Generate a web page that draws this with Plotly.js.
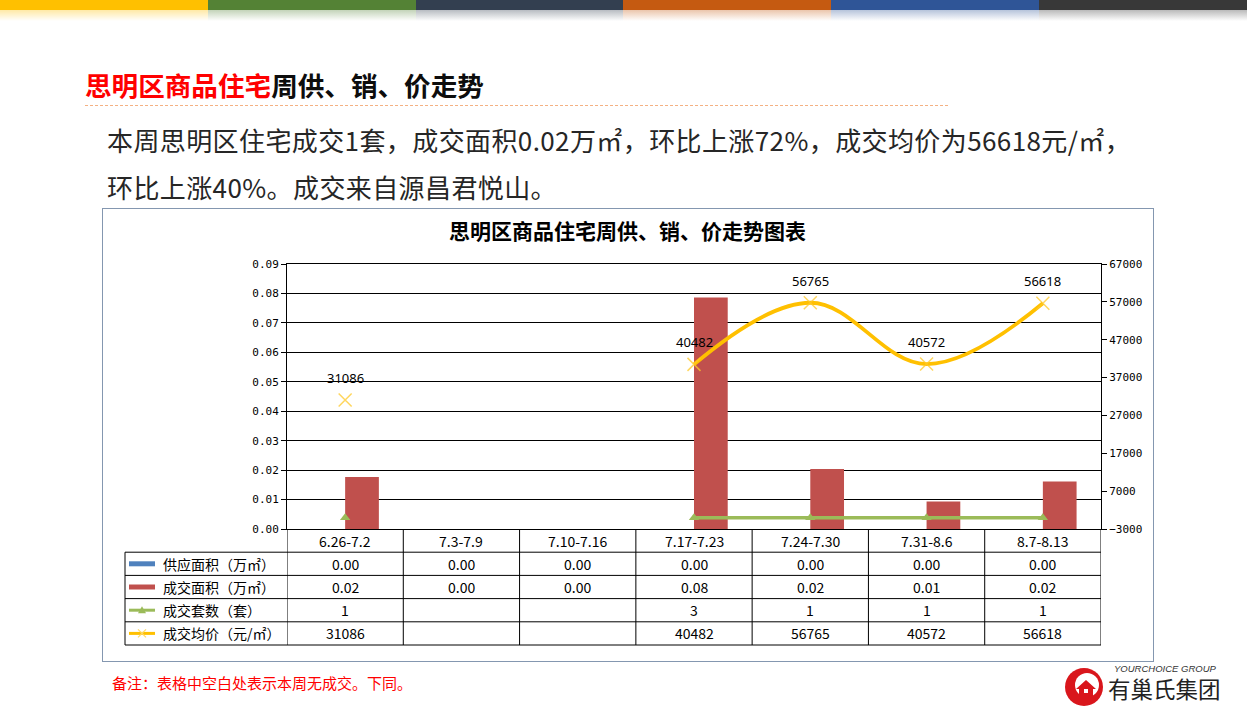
<!DOCTYPE html>
<html><head><meta charset="utf-8">
<script src="https://cdn.plot.ly/plotly-3.0.1.min.js"></script>
<style>
html,body{margin:0;padding:0;background:#fff;width:1247px;height:718px;overflow:hidden;font-family:"Noto Sans CJK SC","Noto Sans",sans-serif;}
.abs{position:absolute;}
.topbar{left:0;top:0;width:1247px;height:22px;display:flex;}
.seg{flex:1;position:relative;height:22px;}
.band{position:absolute;left:0;top:0;width:100%;height:10px;}
.shade{position:absolute;left:0;top:10px;width:100%;height:11px;opacity:0.35;}
#chart{position:absolute;left:0;top:0;width:1247px;height:718px;z-index:2;}
</style></head>
<body>
<div class="abs topbar" id="topbar"></div>
<div class="abs" style="left:85px;top:71px;font-size:26.6px;line-height:28px;font-weight:bold;white-space:nowrap;"><span style="color:#FF0000">思明区商品住宅</span><span style="color:#0D0D0D">周供、销、价走势</span></div>
<div class="abs" style="left:85px;top:105px;width:863px;border-top:1px dashed #F4B183;"></div>
<div class="abs" style="left:107px;top:126px;font-size:26px;line-height:28px;letter-spacing:0.4px;color:#262626;white-space:nowrap;">本周思明区住宅成交1套，成交面积0.02万㎡，环比上涨72%，成交均价为56618元/㎡，</div>
<div class="abs" style="left:107px;top:173px;font-size:26px;line-height:28px;letter-spacing:0.4px;color:#262626;white-space:nowrap;">环比上涨40%。成交来自源昌君悦山。</div>
<div class="abs" style="left:102px;top:208px;width:1050px;height:452px;border:1px solid #8497B0;"></div>
<div class="abs" style="left:112px;top:674px;font-size:15px;line-height:18px;color:#FF0000;white-space:nowrap;">备注：表格中空白处表示本周无成交。下同。</div>
<svg class="abs" style="left:1062px;top:665px;" width="46" height="44" viewBox="0 0 46 44">
  <circle cx="22" cy="22" r="19" fill="#D9161C"/>
  <circle cx="25" cy="20" r="12" fill="#fff"/>
  <path d="M14 24 L24 15 L34 24 L31 24 L31 33 L17 33 L17 24 Z" fill="#D9161C"/>
  <rect x="22" y="24" width="4" height="4" fill="#fff"/>
</svg>
<div class="abs" style="left:1114px;top:663px;font-size:9.5px;line-height:11px;font-style:italic;color:#333;font-family:'Liberation Sans',sans-serif;white-space:nowrap;">YOURCHOICE GROUP</div>
<div class="abs" style="left:1108px;top:677px;font-size:22.5px;line-height:23px;color:#222;white-space:nowrap;">有巢氏集团</div>
<div id="chart"></div>
<script>
// ---- data ----
const categories = ['6.26-7.2','7.3-7.9','7.10-7.16','7.17-7.23','7.24-7.30','7.31-8.6','8.7-8.13'];
const supplyArea = [0, 0, 0, 0, 0, 0, 0];
const salesArea = [0.0177, 0, 0, 0.0786, 0.0204, 0.0093, 0.0161];
const salesUnits = [1, null, null, 3, 1, 1, 1];
const avgPrice = [31086, null, null, 40482, 56765, 40572, 56618];
const rowLabels = ['供应面积（万㎡）', '成交面积（万㎡）', '成交套数（套）', '成交均价（元/㎡）'];
const chartTitle = '思明区商品住宅周供、销、价走势图表';
const barColors = ['#FFC000','#548235','#333F50','#C55A11','#2F5597','#383838'];

// top colour bar
const tb = document.getElementById('topbar');
barColors.forEach(c => {
  const s = document.createElement('div'); s.className = 'seg';
  s.innerHTML = '<div class="band" style="background:'+c+'"></div><div class="shade" style="background:linear-gradient(to bottom,'+c+',rgba(255,255,255,0))"></div>';
  tb.appendChild(s);
});

// ---- layout geometry (pixels) ----
const PL = 287, PR = 1101, PT = 264, PB = 529;
const PW = PR - PL, PH = PB - PT;
const xp = px => (px - PL) / PW;
const yp = py => (PB - py) / PH;
const rowEdges = [529, 552.2, 575.4, 598.6, 621.8, 645];
const rowMid = i => (rowEdges[i] + rowEdges[i + 1]) / 2;
const LEFTCOL = 125;

const fontCJK = 'Noto Sans CJK SC, Noto Sans, sans-serif';
const traces = [
  {type:'bar', name:rowLabels[0], x:categories, y:supplyArea, marker:{color:'#4F81BD'}, yaxis:'y', hoverinfo:'skip'},
  {type:'bar', name:rowLabels[1], x:categories, y:salesArea, marker:{color:'#C0504D'}, yaxis:'y', hoverinfo:'skip'},
  {type:'scatter', mode:'lines+markers', name:rowLabels[2], x:categories, y:salesUnits, yaxis:'y2',
   line:{color:'#9BBB59', width:3.5}, marker:{symbol:'triangle-up', size:9, color:'#9BBB59'}, connectgaps:false, hoverinfo:'skip'},
  {type:'scatter', mode:'lines+markers', name:rowLabels[3], x:categories, y:avgPrice, yaxis:'y2',
   line:{color:'#FFC000', width:3.8, shape:'spline', smoothing:1.1},
   marker:{symbol:'x-thin-open', size:13, color:'rgba(255,200,40,0.75)', line:{color:'rgba(255,200,40,0.75)', width:1.5}},
   connectgaps:false, hoverinfo:'skip', cliponaxis:false}
];

const shapes = [];
const annotations = [];
// price data labels
avgPrice.forEach((v, i) => {
  if (v != null) annotations.push({xref:'x', yref:'y2', x:i, y:v, yshift:22, text:String(v), showarrow:false,
    font:{family:'Noto Sans, sans-serif', size:13, color:'#000'}, xanchor:'center', yanchor:'middle'});
});
const lineStyle = {color:'#000', width:1};
// vertical lines at category boundaries
for (let i = 0; i <= categories.length; i++) {
  shapes.push({type:'line', xref:'x', yref:'paper', x0:i - 0.5, x1:i - 0.5, y0:yp(rowEdges[0]), y1:yp(rowEdges[5]), line:lineStyle});
}
// left label column border
shapes.push({type:'line', xref:'paper', yref:'paper', x0:xp(LEFTCOL), x1:xp(LEFTCOL), y0:yp(rowEdges[1]), y1:yp(rowEdges[5]), line:lineStyle});
// horizontal lines
for (let r = 1; r < rowEdges.length; r++) {
  shapes.push({type:'line', xref:'paper', yref:'paper', x0:xp(LEFTCOL), x1:1, y0:yp(rowEdges[r]), y1:yp(rowEdges[r]), line:lineStyle});
}
// header row: categories
const cellFont = {family:fontCJK, size:14, color:'#000'};
categories.forEach((c, i) => {
  annotations.push({xref:'x', yref:'paper', x:i, y:yp(rowMid(0)), text:c, showarrow:false, font:cellFont, xanchor:'center', yanchor:'middle'});
});
const rows = [
  supplyArea.map(v => v.toFixed(2)),
  salesArea.map(v => v.toFixed(2)),
  salesUnits.map(v => v == null ? '' : String(v)),
  avgPrice.map(v => v == null ? '' : String(v))
];
rows.forEach((vals, r) => {
  vals.forEach((t, i) => {
    if (t !== '') annotations.push({xref:'x', yref:'paper', x:i, y:yp(rowMid(r + 1)), text:t, showarrow:false, font:cellFont, xanchor:'center', yanchor:'middle'});
  });
  annotations.push({xref:'paper', yref:'paper', x:xp(161), y:yp(rowMid(r + 1)), text:rowLabels[r], showarrow:false, font:{family:fontCJK, size:14, color:'#000'}, xanchor:'left', yanchor:'middle'});
});
// legend keys
const kx0 = xp(129), kx1 = xp(155);
const c1 = rowMid(1), c2 = rowMid(2), c3 = rowMid(3), c4 = rowMid(4);
shapes.push({type:'rect', xref:'paper', yref:'paper', x0:kx0, x1:kx1, y0:yp(c1 + 2.5), y1:yp(c1 - 2.5), fillcolor:'#4F81BD', line:{width:0}});
shapes.push({type:'rect', xref:'paper', yref:'paper', x0:kx0, x1:kx1, y0:yp(c2 + 2.5), y1:yp(c2 - 2.5), fillcolor:'#C0504D', line:{width:0}});
shapes.push({type:'line', xref:'paper', yref:'paper', x0:kx0, x1:kx1, y0:yp(c3), y1:yp(c3), line:{color:'#9BBB59', width:3}});
shapes.push({type:'path', xref:'paper', yref:'paper', fillcolor:'#9BBB59', line:{width:0},
  path:'M '+xp(138)+' '+yp(c3 + 3)+' L '+xp(146)+' '+yp(c3 + 3)+' L '+xp(142)+' '+yp(c3 - 4)+' Z'});
shapes.push({type:'line', xref:'paper', yref:'paper', x0:kx0, x1:kx1, y0:yp(c4), y1:yp(c4), line:{color:'#FFC000', width:3}});
shapes.push({type:'line', xref:'paper', yref:'paper', x0:xp(138), x1:xp(146), y0:yp(c4 - 4), y1:yp(c4 + 4), line:{color:'#FFD966', width:1.2}});
shapes.push({type:'line', xref:'paper', yref:'paper', x0:xp(138), x1:xp(146), y0:yp(c4 + 4), y1:yp(c4 - 4), line:{color:'#FFD966', width:1.2}});

const tickFont = {family:'DejaVu Sans Mono, monospace', size:11, color:'#000'};
const layout = {
  width:1247, height:718,
  margin:{l:PL, r:1247 - PR, t:PT, b:718 - PB, pad:0},
  paper_bgcolor:'rgba(0,0,0,0)', plot_bgcolor:'rgba(0,0,0,0)',
  showlegend:false,
  barmode:'group', bargap:0.42, bargroupgap:0,
  title:{text:'<b>'+chartTitle+'</b>', xref:'container', yref:'container', x:627.5/1247, y:1 - 232/718,
         xanchor:'center', yanchor:'middle', font:{family:fontCJK, size:21, color:'#000'}},
  xaxis:{type:'category', range:[-0.5, categories.length - 0.5], showticklabels:false, ticks:'',
         showgrid:false, zeroline:false, showline:true, mirror:true, linecolor:'#000', linewidth:1, fixedrange:true},
  yaxis:{range:[0, 0.09], dtick:0.01, tick0:0, tickformat:'.2f', showgrid:true, gridcolor:'#000', gridwidth:1,
         zeroline:false, showline:true, linecolor:'#000', linewidth:1, ticks:'outside', ticklen:5, tickcolor:'#000',
         tickfont:tickFont, fixedrange:true},
  yaxis2:{overlaying:'y', side:'right', range:[-3000, 67000], tick0:-3000, dtick:10000, tickformat:'d',
          showgrid:false, zeroline:false, showline:true, linecolor:'#000', linewidth:1, ticks:'outside', ticklen:5,
          tickcolor:'#000', tickfont:tickFont, fixedrange:true},
  shapes:shapes, annotations:annotations,
  font:{family:fontCJK}
};
Plotly.newPlot('chart', traces, layout, {displayModeBar:false, staticPlot:true});
</script>
</body></html>
